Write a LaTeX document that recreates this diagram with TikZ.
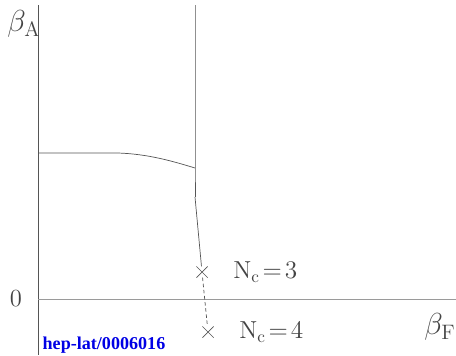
\documentclass[tikz,border=0pt]{standalone}
\usepackage{fontspec}
\usepackage{xcolor}
\usepackage{tikz}
\usetikzlibrary{positioning,shapes.misc}
\newfontfamily\tnr{Liberation Serif}
\definecolor{linegray}{HTML}{555555}
\definecolor{axisgray}{HTML}{9A9A9A}
\definecolor{textgray}{HTML}{444444}

\begin{document}
\begin{tikzpicture}[x=0.02cm, y=-0.02cm,
	lbl/.style={textgray, font=\fontsize{14}{16}\selectfont, inner sep=0pt},
	bet/.style={textgray, font=\fontsize{17}{19}\selectfont, inner sep=0pt},
	xmark/.style={cross out, draw=linegray, thin, minimum size=6pt, inner sep=0pt}]
\useasboundingbox (0,0) rectangle (456,355);

% axes
\coordinate(o) at (38,299);
\coordinate(top) at (38,5);
\coordinate(bot) at (38,355);
\coordinate(right) at (456,299);
\draw[linegray, thin] (top) -- (bot) ;
\draw[axisgray, thin] (o) -- (right) ;

\node[bet](ba) at (24,24) {$\beta_{\mathrm{A}}$};
\node[lbl](zero) at (16,299) {0};
\node[bet](bf) at (440,327) {$\beta_{\mathrm{F}}$};

% phase lines
\coordinate(a1) at (38,153);
\coordinate(a2) at (118,153);
\coordinate(k) at (195,168);
\coordinate(k2) at (195,197);
\coordinate(ktop) at (195,5);
\draw[linegray, thin] (a1) -- (a2) .. controls (148,154) and (172,161) .. (k) ;
\draw[linegray, thin] (ktop) -- (k) -- (k2) ;

\node[xmark](c3) at (202,272) {};
\node[xmark](c4) at (208,332) {};
\draw[linegray, thin] (k2) -- (c3) ;
\draw[linegray, thin, dash pattern=on 2pt off 1.5pt] (c3) -- (c4) ;

\node[lbl, right =0.62cm of c3.center, anchor=west](n3) {N$_{\mathrm{c}}\!=\!3$};
\node[lbl, right =0.62cm of c4.center, anchor=west](n4) {N$_{\mathrm{c}}\!=\!4$};

\node[blue!90!black, font=\tnr\bfseries\fontsize{10.3}{12}\selectfont](tag) at (104,345) {hep-lat/0006016};
\end{tikzpicture}
\end{document}
